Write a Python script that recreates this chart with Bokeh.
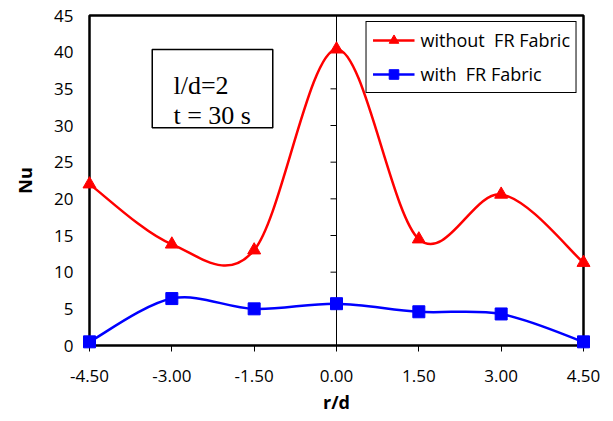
import numpy as np
from bokeh.plotting import figure
from bokeh.models import (Range1d, FixedTicker, Span, BoxAnnotation, Label,
                          Legend, LegendItem)
from bokeh.embed import file_html
from bokeh.resources import INLINE

# ---- data ----
r_d = [-4.5, -3.0, -1.5, 0.0, 1.5, 3.0, 4.5]
nu_without = [22.0, 13.8, 13.0, 40.4, 14.5, 20.6, 11.3]
nu_with = [0.5, 6.4, 5.0, 5.7, 4.6, 4.3, 0.5]
series_names = ["without  FR Fabric", "with  FR Fabric"]
x_ticks = [-4.5, -3.0, -1.5, 0.0, 1.5, 3.0, 4.5]
x_tick_labels = ["-4.50", "-3.00", "-1.50", "0.00", "1.50", "3.00", "4.50"]
y_ticks = [0, 5, 10, 15, 20, 25, 30, 35, 40, 45]
note_lines = ["l/d=2", "t = 30 s"]


def bezier_segments(x, y):
    """Catmull-Rom style smooth segments (like spreadsheet 'smoothed line')."""
    x = np.asarray(x, float)
    y = np.asarray(y, float)
    n = len(x)
    xp = np.concatenate([[x[0]], x, [x[-1]]])
    yp = np.concatenate([[y[0]], y, [y[-1]]])
    cx0 = x[:-1] + (xp[2:n + 1] - xp[0:n - 1]) / 6.0
    cy0 = y[:-1] + (yp[2:n + 1] - yp[0:n - 1]) / 6.0
    cx1 = x[1:] - (xp[3:n + 2] - xp[1:n]) / 6.0
    cy1 = y[1:] - (yp[3:n + 2] - yp[1:n]) / 6.0
    return dict(x0=x[:-1], y0=y[:-1], x1=x[1:], y1=y[1:],
                cx0=cx0, cy0=cy0, cx1=cx1, cy1=cy1)


p = figure(width=613, height=421, output_backend="svg", toolbar_location=None,
           x_range=Range1d(-4.5, 4.5), y_range=Range1d(0, 45),
           min_border_left=89, min_border_right=30, min_border_top=15,
           min_border_bottom=76)
p.background_fill_color = "white"
p.border_fill_color = "white"
p.outline_line_color = "black"
p.outline_line_width = 2.5
p.xgrid.visible = False
p.ygrid.visible = False

# axes
p.xaxis.ticker = FixedTicker(ticks=x_ticks)
p.xaxis.major_label_overrides = {t: l for t, l in zip(x_ticks, x_tick_labels)}
p.yaxis.ticker = FixedTicker(ticks=y_ticks)
p.xaxis.minor_tick_line_color = None
p.yaxis.minor_tick_line_color = None
p.xaxis.axis_line_color = None
p.yaxis.axis_line_color = None
p.xaxis.major_tick_out = 6
p.xaxis.major_tick_in = 0
p.xaxis.major_tick_line_color = "black"
p.yaxis.major_tick_line_color = None
p.yaxis.major_tick_out = 0
p.yaxis.major_tick_in = 0
for ax in (p.xaxis, p.yaxis):
    ax.major_label_text_font = "Open Sans"
    ax.major_label_text_font_size = "17px"
    ax.major_label_text_color = "black"
    ax.axis_label_text_font = "Open Sans"
    ax.axis_label_text_font_style = "bold"
    ax.axis_label_text_font_size = "18px"
    ax.axis_label_text_color = "black"
p.xaxis.major_label_standoff = 18
p.yaxis.major_label_standoff = 16
p.xaxis.axis_label = "r/d"
p.yaxis.axis_label = "Nu"
p.xaxis.axis_label_standoff = 5
p.yaxis.axis_label_standoff = 14

# vertical axis line at x = 0 with ticks pointing left
p.add_layout(Span(location=0, dimension="height", line_color="black", line_width=1))
p.ray(x=[0] * len(y_ticks), y=y_ticks, length=6, length_units="screen",
      angle=np.pi, line_color="black", line_width=1)

# series
red_bz = p.bezier(**bezier_segments(r_d, nu_without),
                  line_color="#FF0000", line_width=2.5)
red_sc = p.scatter(r_d, nu_without, marker="triangle", size=13,
                   fill_color="#FF0000", line_color="#FF0000", level="overlay")
blue_bz = p.bezier(**bezier_segments(r_d, nu_with),
                   line_color="#0000FF", line_width=2.5)
blue_sc = p.scatter(r_d, nu_with, marker="square", size=12,
                    fill_color="#0000FF", line_color="#0000FF", level="overlay")

legend = Legend(items=[LegendItem(label=series_names[0], renderers=[red_bz, red_sc]),
                       LegendItem(label=series_names[1], renderers=[blue_bz, blue_sc])],
                location="top_right")
legend.margin = 6
legend.padding = 6
legend.spacing = 10
legend.label_height = 24
legend.glyph_height = 24
legend.glyph_width = 42
legend.label_standoff = 6
legend.label_text_font = "Open Sans"
legend.label_text_font_size = "18px"
legend.label_text_color = "black"
legend.border_line_color = "black"
legend.border_line_width = 1
legend.border_line_alpha = 1
legend.background_fill_color = "white"
legend.background_fill_alpha = 1
p.add_layout(legend)

# annotation box
p.add_layout(BoxAnnotation(left=-3.357, right=-1.161, top=40.36, bottom=29.7,
                           fill_color=None, fill_alpha=0, line_color="black",
                           line_alpha=1, line_width=1.5))
p.add_layout(Label(x=-2.97, y=35.45, text=note_lines[0], text_font="Liberation Serif",
                   text_font_size="26px", text_baseline="alphabetic", text_color="black"))
p.add_layout(Label(x=-2.97, y=31.36, text=note_lines[1], text_font="Liberation Serif",
                   text_font_size="26px", text_baseline="alphabetic", text_color="black"))

open("out.html", "w").write(file_html(p, INLINE))
